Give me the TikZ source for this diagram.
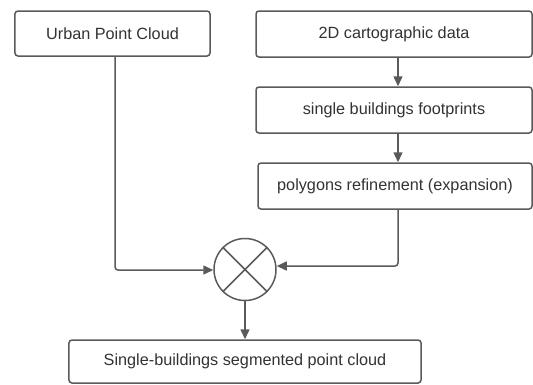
\documentclass[tikz,border=0pt]{standalone}
\usepackage{fontspec}
\setmainfont{Liberation Sans}
\usetikzlibrary{arrows.meta,calc}
\definecolor{edge}{HTML}{5A5A5A}
\definecolor{ink}{HTML}{333333}
\tikzset{
  x=1bp, y=-1bp,
  box/.style={draw=edge, line width=1.5bp, rounded corners=3bp, fill=white,
    text=ink, font=\fontsize{16.3}{19}\selectfont, inner sep=0pt, anchor=center},
  flow/.style={draw=edge, line width=1.5bp, rounded corners=3bp,
    -{Triangle[length=10bp,width=9bp]}},
}
\begin{document}
\begin{tikzpicture}
\useasboundingbox (0,0) rectangle (533,384);
% input and processing boxes
\node[box, minimum width=195bp, minimum height=45bp] (upc)  at (112.5,33.5) {Urban Point Cloud};
\node[box, minimum width=276bp, minimum height=46bp] (cart) at (394,34) {2D cartographic data};
\node[box, minimum width=276bp, minimum height=46bp] (foot) at (394,110) {single buildings footprints};
\node[box, minimum width=274bp, minimum height=46bp] (poly) at (395,186) {polygons refinement (expansion)};
\node[box, minimum width=352bp, minimum height=43bp] (out)  at (245,361.5) {Single-buildings segmented point cloud};
% merge operator
\node[draw=edge, line width=1.5bp, circle, minimum size=62bp, inner sep=0pt] (mix) at (245,269.5) {};
\draw[edge, line width=1.5bp] (mix.north west) -- (mix.south east)
                              (mix.north east) -- (mix.south west);
% vertical guide for the right column of arrows
\coordinate (col) at (398,0);
\coordinate (lcol) at (115,0);
\draw[flow] (cart.south -| col) -- (foot.north -| col);
\draw[flow] (foot.south -| col) -- (poly.north -| col);
\draw[flow] (upc.south -| lcol) |- ($(mix.west)+(0,0.5)$);
\draw[flow] (poly.south -| col) |- ($(mix.east)+(0,-3.5)$);
\draw[flow] (mix.south) -- (out.north -| mix.south);
\end{tikzpicture}
\end{document}
